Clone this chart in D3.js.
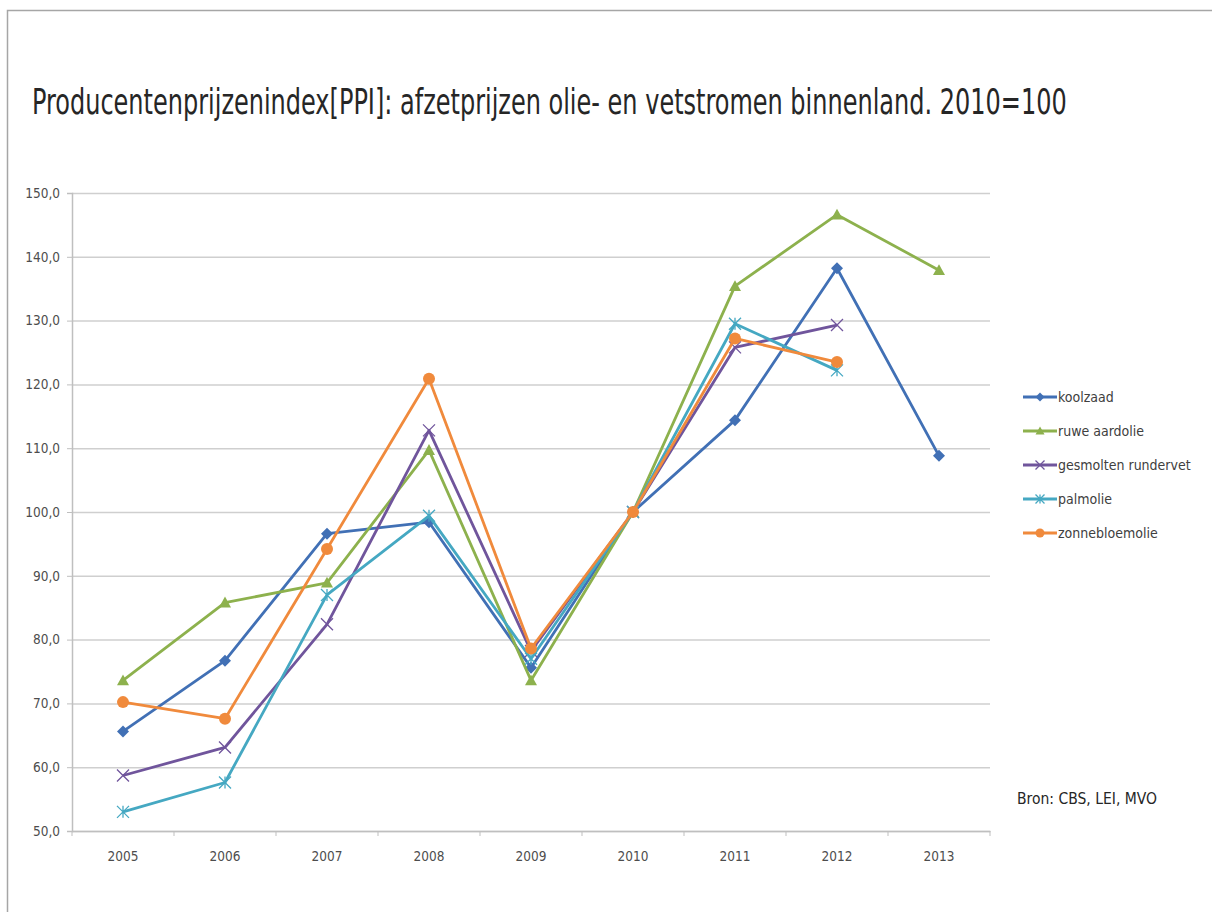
<!DOCTYPE html>
<html>
<head>
<meta charset="utf-8">
<script src="https://cdn.jsdelivr.net/npm/d3@7"></script>
<style>
  html, body { margin: 0; padding: 0; background: #fff; }
  svg { display: block; }
  text { font-family: "Liberation Sans Narrow", "DejaVu Sans Condensed", "Liberation Sans", sans-serif; }
</style>
</head>
<body>
<svg id="chart" width="1212" height="912"></svg>
<script>
// Producer price index of oil and fat streams, 2010 = 100
const years = ["2005", "2006", "2007", "2008", "2009", "2010", "2011", "2012", "2013"];
const seriesNames = ["koolzaad", "ruwe aardolie", "gesmolten rundervet", "palmolie", "zonnebloemolie"];
const koolzaad = [65.6, 76.7, 96.6, 98.4, 75.6, 100, 114.4, 138.2, 108.8];
const ruweAardolie = [73.6, 85.8, 88.9, 109.7, 73.6, 100, 135.4, 146.6, 137.9];
const gesmoltenRundervet = [58.7, 63.1, 82.4, 112.8, 78.2, 100, 125.8, 129.3, null];
const palmolie = [53.0, 57.6, 87.0, 99.4, 77.0, 100, 129.5, 122.2, null];
const zonnebloemolie = [70.2, 67.6, 94.2, 120.9, 78.6, 100, 127.2, 123.5, null];
const yTicks = [50, 60, 70, 80, 90, 100, 110, 120, 130, 140, 150];
const titleText = "Producentenprijzenindex[PPI]: afzetprijzen olie- en vetstromen binnenland. 2010=100";
const sourceText = "Bron: CBS, LEI, MVO";

const colors = ["#4170b5", "#8db14d", "#70559c", "#45a8c2", "#f08a3c"];
const markers = ["diamond", "triangle", "cross", "star", "circle"];
const allValues = [koolzaad, ruweAardolie, gesmoltenRundervet, palmolie, zonnebloemolie];

const svg = d3.select("#chart");

// outer frame of the chart object
svg.append("path")
  .attr("d", "M7.5,912 L7.5,10.5 L1212,10.5")
  .attr("fill", "none").attr("stroke", "#a6a6a6").attr("stroke-width", 1.5);

// title: tall narrow lettering, squeezed horizontally to span the chart width
const title = svg.append("text")
  .attr("x", 0).attr("y", 0)
  .attr("font-size", 35)
  .attr("fill", "#262626")
  .text(titleText);
const natural = title.node().getComputedTextLength();
const sx = Math.min(1, 1035 / natural);
title.attr("transform", `translate(32,114) scale(${sx},1)`);

const plot = { left: 72, right: 990, top: 193, bottom: 831 };

const x = d3.scaleBand().domain(years).range([plot.left, plot.right]).padding(0);
const y = d3.scaleLinear().domain([50, 150]).range([plot.bottom, plot.top]);

const nl = d3.formatLocale({ decimal: ",", thousands: ".", grouping: [3], currency: ["€", ""] });
const fmt = nl.format(".1f");

// horizontal gridlines
svg.append("g")
  .attr("transform", `translate(${plot.left},0)`)
  .call(d3.axisLeft(y).tickValues(yTicks).tickSize(-(plot.right - plot.left)).tickFormat(""))
  .call(g => g.select(".domain").remove())
  .call(g => g.selectAll("line").attr("stroke", "#cfcfcf").attr("stroke-width", 1.5));

const tickFont = "\"Liberation Sans Narrow\", \"DejaVu Sans Condensed\", sans-serif";

// y axis
const yAxis = svg.append("g")
  .attr("transform", `translate(${plot.left},0)`)
  .call(d3.axisLeft(y).tickValues(yTicks).tickSize(5).tickPadding(7).tickFormat(fmt));
yAxis.select(".domain").attr("stroke", "#bfbfbf").attr("stroke-width", 1.5);
yAxis.selectAll("line").attr("stroke", "#bfbfbf");
yAxis.selectAll("text").attr("font-size", 13.5).attr("fill", "#4d4d4d").attr("font-family", tickFont);

// x axis with labels centred on categories
const xAxis = svg.append("g")
  .attr("transform", `translate(0,${plot.bottom})`)
  .call(d3.axisBottom(x).tickSize(0).tickPadding(20));
xAxis.select(".domain").attr("stroke", "#bfbfbf").attr("stroke-width", 1.5);
xAxis.selectAll("text").attr("font-size", 13.5).attr("fill", "#4d4d4d").attr("font-family", tickFont);

// tick marks at category boundaries
const bounds = years.map(d => x(d)).concat([x(years[years.length - 1]) + x.bandwidth()]);
svg.append("g").selectAll("line").data(bounds).join("line")
  .attr("x1", d => d).attr("x2", d => d)
  .attr("y1", plot.bottom).attr("y2", plot.bottom + 5)
  .attr("stroke", "#bfbfbf").attr("stroke-width", 1);

function markerPath(type, size) {
  const s = size;
  switch (type) {
    case "diamond": return `M0,${-s} L${s},0 L0,${s} L${-s},0 Z`;
    case "triangle": return `M0,${-s} L${s},${s * 0.8} L${-s},${s * 0.8} Z`;
    case "cross": return `M${-s},${-s} L${s},${s} M${-s},${s} L${s},${-s}`;
    case "star": return `M${-s},${-s} L${s},${s} M${-s},${s} L${s},${-s} M0,${-s} L0,${s}`;
    default: return "";
  }
}

function drawMarker(g, type, color, cx, cy, scale) {
  const k = scale || 1;
  if (type === "circle") {
    g.append("circle").attr("cx", cx).attr("cy", cy).attr("r", 6 * k).attr("fill", color);
  } else if (type === "cross" || type === "star") {
    g.append("path").attr("transform", `translate(${cx},${cy})`)
      .attr("d", markerPath(type, 6 * k)).attr("fill", "none")
      .attr("stroke", color).attr("stroke-width", 1.3);
  } else {
    g.append("path").attr("transform", `translate(${cx},${cy})`)
      .attr("d", markerPath(type, 6 * k)).attr("fill", color);
  }
}

const cx = d => x(d) + x.bandwidth() / 2;

allValues.forEach((vals, i) => {
  const pts = years.map((yr, j) => ({ yr, v: vals[j] })).filter(p => p.v !== null);
  const g = svg.append("g");
  const line = d3.line().x(p => cx(p.yr)).y(p => y(p.v));
  g.append("path").datum(pts)
    .attr("d", line)
    .attr("fill", "none")
    .attr("stroke", colors[i])
    .attr("stroke-width", 2.8)
    .attr("stroke-linejoin", "round");
  pts.forEach(p => drawMarker(g, markers[i], colors[i], cx(p.yr), y(p.v)));
});

// legend
const legend = svg.append("g");
seriesNames.forEach((name, i) => {
  const ly = 397 + i * 34;
  const g = legend.append("g");
  g.append("line").attr("x1", 1023).attr("x2", 1057).attr("y1", ly).attr("y2", ly)
    .attr("stroke", colors[i]).attr("stroke-width", 2.8);
  drawMarker(g, markers[i], colors[i], 1040, ly, 0.75);
  g.append("text").attr("x", 1058).attr("y", ly + 5)
    .attr("font-size", 14).attr("fill", "#404040").text(name);
});

// source note
svg.append("text")
  .attr("x", 1017).attr("y", 804)
  .attr("font-size", 15.5).attr("fill", "#262626")
  .text(sourceText);
</script>
</body>
</html>
